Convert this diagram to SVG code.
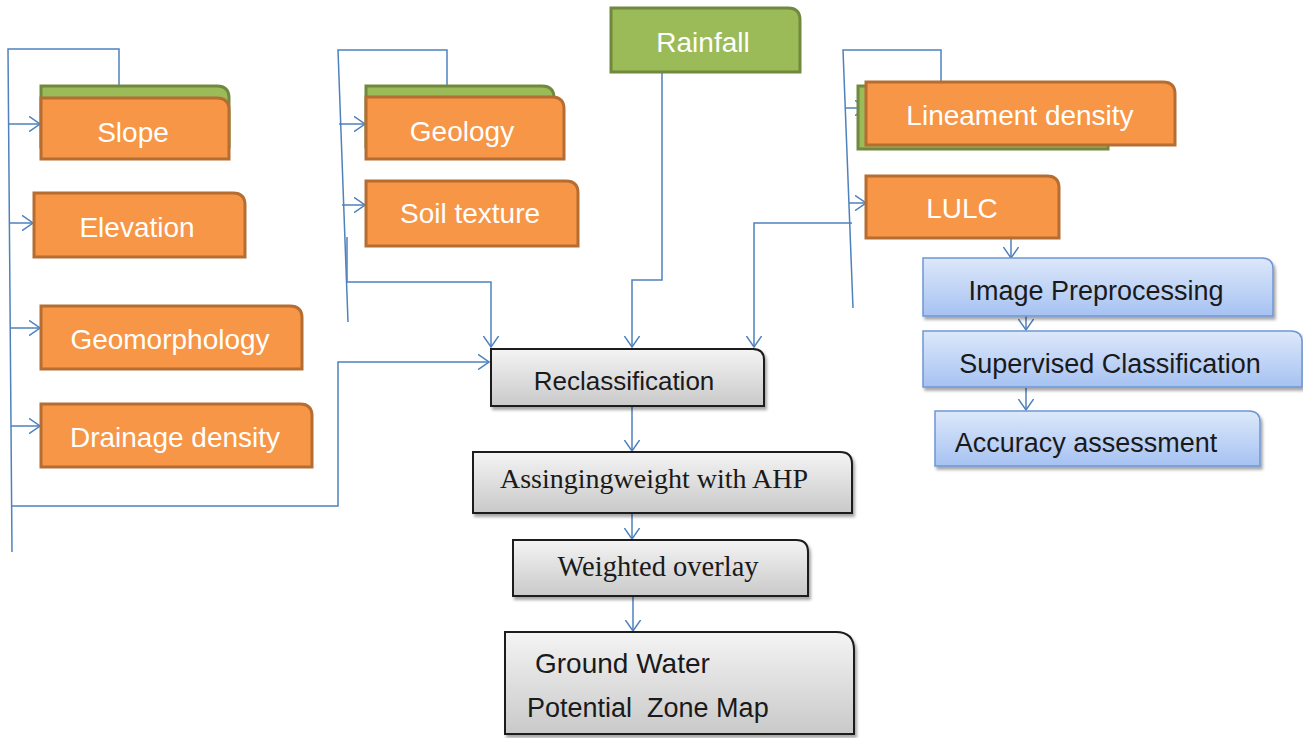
<svg xmlns="http://www.w3.org/2000/svg" width="1303" height="738" viewBox="0 0 1303 738">
<defs>
  <linearGradient id="gGray" x1="0" y1="0" x2="0" y2="1">
    <stop offset="0" stop-color="#F4F4F4"/>
    <stop offset="1" stop-color="#C9C9C9"/>
  </linearGradient>
  <linearGradient id="gBlue" x1="0" y1="0" x2="0" y2="1">
    <stop offset="0" stop-color="#DDE8FA"/>
    <stop offset="1" stop-color="#A6C2F2"/>
  </linearGradient>
  <filter id="shadow" x="-5%" y="-10%" width="112%" height="130%">
    <feDropShadow dx="2" dy="3" stdDeviation="1.5" flood-color="#000" flood-opacity="0.35"/>
  </filter>
  <marker id="arr" viewBox="0 0 12 16" refX="11.5" refY="8" markerWidth="12" markerHeight="16" markerUnits="userSpaceOnUse" orient="auto">
    <path d="M0,0 L11.5,8 L0,16" fill="none" stroke="#4F81BD" stroke-width="1.5"/>
  </marker>
</defs>
<style>
  .org { fill: #F79646; stroke: #B66D31; stroke-width: 3; }
  .grn { fill: #9BBB59; stroke: #71893F; stroke-width: 3; }
  .gry { fill: url(#gGray); stroke: #1a1a1a; stroke-width: 2; filter: url(#shadow); }
  .blu { fill: url(#gBlue); stroke: #6F97D3; stroke-width: 1.5; filter: url(#shadow); }
  .wt { font-family: "Liberation Sans", Arial, sans-serif; font-size: 28px; fill: #FFFFFF; text-anchor: middle; }
  .dt { font-family: "Liberation Sans", Arial, sans-serif; font-size: 27px; fill: #1a1a1a; text-anchor: middle; }
  .st { font-family: "Liberation Serif", "Times New Roman", serif; font-size: 28px; fill: #1a1a1a; text-anchor: middle; }
  .cn { fill: none; stroke: #4F81BD; stroke-width: 1.5; }
  .ca { fill: none; stroke: #4F81BD; stroke-width: 1.5; marker-end: url(#arr); }
</style>

<g id="connectors">
  <!-- left bracket -->
  <path class="cn" d="M119,86 L119,49 L8,49 L12,552"/>
  <path class="ca" d="M9,124 L40,124"/>
  <path class="ca" d="M10,223 L33,223"/>
  <path class="ca" d="M10,328 L40,328"/>
  <path class="ca" d="M11,426 L40,426"/>
  <path class="ca" d="M11,506 L338,506 L338,362 L489,362"/>
  <!-- middle bracket -->
  <path class="cn" d="M447,87 L447,50 L338,50 L348,322"/>
  <path class="ca" d="M339,124 L365,124"/>
  <path class="ca" d="M342,205 L365,205"/>
  <path class="ca" d="M347,237 L347,282 L491,282 L491,347"/>
  <!-- rainfall -->
  <path class="ca" d="M691,71 L662,71 L662,280 L632,280 L632,347"/>
  <!-- right bracket -->
  <path class="cn" d="M941,85 L941,50 L843,50 L853,308"/>
  <path class="ca" d="M845,108 L866,108"/>
  <path class="ca" d="M849,203 L866,203"/>
  <path class="ca" d="M852,223 L754,223 L754,347"/>
  <!-- LULC chain -->
  <path class="ca" d="M1011,238 L1011,258"/>
  <path class="ca" d="M1026,307 L1026,330"/>
  <path class="ca" d="M1026,388 L1026,410"/>
  <!-- central chain -->
  <path class="ca" d="M632,406 L632,451"/>
  <path class="ca" d="M632,513 L632,539"/>
  <path class="ca" d="M633,596 L633,631"/>
</g>

<g id="slope">
  <path class="grn" d="M41,86 H217 Q229,86 229,98 V147 H41 Z"/>
  <path class="org" d="M41,98 H217 Q229,98 229,110 V159 H41 Z"/>
  <text class="wt" x="133" y="142">Slope</text>
</g>
<g id="elevation">
  <path class="org" d="M34,193 H233 Q245,193 245,205 V257 H34 Z"/>
  <text class="wt" x="137" y="237">Elevation</text>
</g>
<g id="geomorphology">
  <path class="org" d="M41,306 H290 Q302,306 302,318 V369 H41 Z"/>
  <text class="wt" x="170" y="349">Geomorphology</text>
</g>
<g id="drainage">
  <path class="org" d="M41,404 H300 Q312,404 312,416 V467 H41 Z"/>
  <text class="wt" x="175" y="447">Drainage density</text>
</g>
<g id="geology">
  <path class="grn" d="M366,86 H542 Q554,86 554,98 V147 H366 Z"/>
  <path class="org" d="M366,97 H552 Q564,97 564,109 V159 H366 Z"/>
  <text class="wt" x="462" y="141">Geology</text>
</g>
<g id="soil">
  <path class="org" d="M366,181 H566 Q578,181 578,193 V246 H366 Z"/>
  <text class="wt" x="470" y="223">Soil texture</text>
</g>
<g id="rainfall">
  <path class="grn" d="M611,8 H788 Q800,8 800,20 V72 H611 Z"/>
  <text class="wt" x="703" y="52">Rainfall</text>
</g>
<g id="lineament">
  <path class="grn" d="M858,86 H1108 V149 H858 Z"/>
  <path class="org" d="M866,82 H1163 Q1175,82 1175,94 V145 H866 Z"/>
  <text class="wt" x="1020" y="125">Lineament density</text>
</g>
<g id="lulc">
  <path class="org" d="M866,176 H1047 Q1059,176 1059,188 V238 H866 Z"/>
  <text class="wt" x="962" y="218">LULC</text>
</g>
<g id="imgpre">
  <path class="blu" d="M923,258 H1262 Q1273,258 1273,269 V316 H923 Z"/>
  <text class="dt" x="1096" y="300">Image Preprocessing</text>
</g>
<g id="supervised">
  <path class="blu" d="M923,331 H1291 Q1302,331 1302,342 V387 H923 Z"/>
  <text class="dt" x="1110" y="373">Supervised Classification</text>
</g>
<g id="accuracy">
  <path class="blu" d="M935,411 H1249 Q1260,411 1260,422 V466 H935 Z"/>
  <text class="dt" x="1086" y="452">Accuracy assessment</text>
</g>
<g id="reclass">
  <path class="gry" d="M491,349 H753 Q764,349 764,360 V406 H491 Z"/>
  <text class="dt" x="624" y="390" style="font-size:26px">Reclassification</text>
</g>
<g id="ahp">
  <path class="gry" d="M473,452 H840 Q852,452 852,464 V513 H473 Z"/>
  <text class="st" x="654" y="488">Assingingweight with AHP</text>
</g>
<g id="overlay">
  <path class="gry" d="M513,540 H796 Q808,540 808,552 V596 H513 Z"/>
  <text class="st" x="658" y="576" style="font-size:28.5px">Weighted overlay</text>
</g>
<g id="gwpz">
  <path class="gry" d="M505,632 H836 Q854,632 854,650 V734 H505 Z"/>
  <text class="dt" x="535" y="673" style="text-anchor:start;font-size:28px">Ground Water</text>
  <text class="dt" x="527" y="717" style="text-anchor:start;font-size:27px;white-space:pre" xml:space="preserve">Potential  Zone Map</text>
</g>
</svg>
